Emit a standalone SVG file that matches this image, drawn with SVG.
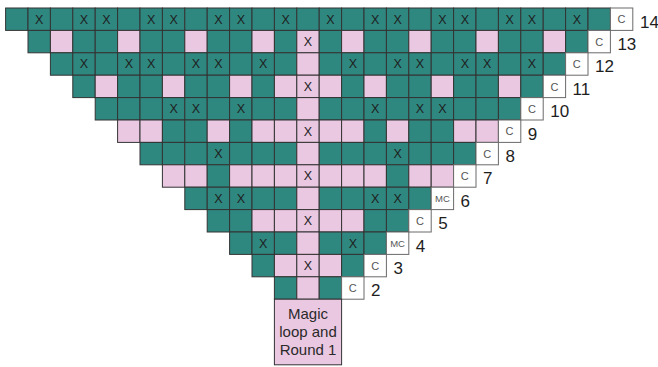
<svg xmlns="http://www.w3.org/2000/svg" width="658" height="367" viewBox="0 0 658 367">
<style>
rect.t,rect.p,rect.c{width:22.4px;height:22.4px;stroke:#333;stroke-width:1}
rect.t{fill:#2f8880}
rect.p{fill:#eac8e2}
rect.c{fill:#fff;stroke:#6a6a6a}
text{font-family:"Liberation Sans",Arial,sans-serif;text-anchor:middle}
text.x{font-size:12.5px;fill:#1e1e1e}
text.cc{font-size:11px;fill:#555}
text.mc{font-size:9.5px;fill:#555}
text.n{font-size:17px;fill:#1e1e1e;text-anchor:start}
text.m{font-size:15px;fill:#2a2a2a}
</style>
<rect x="0" y="0" width="658" height="367" fill="#fff"/>
<g id="row14" transform="translate(0,8)">
<rect class="t" x="5.6"/><rect class="t" x="28"/><rect class="t" x="50.4"/><rect class="t" x="72.8"/><rect class="t" x="95.2"/><rect class="t" x="117.6"/><rect class="t" x="140"/><rect class="t" x="162.4"/><rect class="t" x="184.8"/><rect class="t" x="207.2"/><rect class="t" x="229.6"/><rect class="t" x="252"/><rect class="t" x="274.4"/><rect class="t" x="296.8"/><rect class="t" x="319.2"/><rect class="t" x="341.6"/><rect class="t" x="364"/><rect class="t" x="386.4"/><rect class="t" x="408.8"/><rect class="t" x="431.2"/><rect class="t" x="453.6"/><rect class="t" x="476"/><rect class="t" x="498.4"/><rect class="t" x="520.8"/><rect class="t" x="543.2"/><rect class="t" x="565.6"/><rect class="t" x="588"/>
<text class="x" x="39.2" y="15.7">X</text><text class="x" x="84" y="15.7">X</text><text class="x" x="106.4" y="15.7">X</text><text class="x" x="151.2" y="15.7">X</text><text class="x" x="173.6" y="15.7">X</text><text class="x" x="218.4" y="15.7">X</text><text class="x" x="240.8" y="15.7">X</text><text class="x" x="285.6" y="15.7">X</text><text class="x" x="330.4" y="15.7">X</text><text class="x" x="375.2" y="15.7">X</text><text class="x" x="397.6" y="15.7">X</text><text class="x" x="442.4" y="15.7">X</text><text class="x" x="464.8" y="15.7">X</text><text class="x" x="509.6" y="15.7">X</text><text class="x" x="532" y="15.7">X</text><text class="x" x="576.8" y="15.7">X</text>
<rect class="c" x="610.4"/><text class="cc" x="621.6" y="15.4">C</text>
<text class="n" x="640" y="19.7">14</text>
</g>
<g id="row13" transform="translate(0,30.4)">
<rect class="t" x="28"/><rect class="p" x="50.4"/><rect class="t" x="72.8"/><rect class="t" x="95.2"/><rect class="p" x="117.6"/><rect class="t" x="140"/><rect class="t" x="162.4"/><rect class="p" x="184.8"/><rect class="t" x="207.2"/><rect class="t" x="229.6"/><rect class="p" x="252"/><rect class="t" x="274.4"/><rect class="p" x="296.8"/><rect class="t" x="319.2"/><rect class="p" x="341.6"/><rect class="t" x="364"/><rect class="t" x="386.4"/><rect class="p" x="408.8"/><rect class="t" x="431.2"/><rect class="t" x="453.6"/><rect class="p" x="476"/><rect class="t" x="498.4"/><rect class="t" x="520.8"/><rect class="p" x="543.2"/><rect class="t" x="565.6"/>
<text class="x" x="308" y="15.7">X</text>
<rect class="c" x="588"/><text class="cc" x="599.2" y="15.4">C</text>
<text class="n" x="617.4" y="19.7">13</text>
</g>
<g id="row12" transform="translate(0,52.8)">
<rect class="t" x="50.4"/><rect class="t" x="72.8"/><rect class="t" x="95.2"/><rect class="t" x="117.6"/><rect class="t" x="140"/><rect class="t" x="162.4"/><rect class="t" x="184.8"/><rect class="t" x="207.2"/><rect class="t" x="229.6"/><rect class="t" x="252"/><rect class="t" x="274.4"/><rect class="p" x="296.8"/><rect class="t" x="319.2"/><rect class="t" x="341.6"/><rect class="t" x="364"/><rect class="t" x="386.4"/><rect class="t" x="408.8"/><rect class="t" x="431.2"/><rect class="t" x="453.6"/><rect class="t" x="476"/><rect class="t" x="498.4"/><rect class="t" x="520.8"/><rect class="t" x="543.2"/>
<text class="x" x="84" y="15.7">X</text><text class="x" x="128.8" y="15.7">X</text><text class="x" x="151.2" y="15.7">X</text><text class="x" x="196" y="15.7">X</text><text class="x" x="218.4" y="15.7">X</text><text class="x" x="263.2" y="15.7">X</text><text class="x" x="352.8" y="15.7">X</text><text class="x" x="397.6" y="15.7">X</text><text class="x" x="420" y="15.7">X</text><text class="x" x="464.8" y="15.7">X</text><text class="x" x="487.2" y="15.7">X</text><text class="x" x="532" y="15.7">X</text>
<rect class="c" x="565.6"/><text class="cc" x="576.8" y="15.4">C</text>
<text class="n" x="595" y="19.7">12</text>
</g>
<g id="row11" transform="translate(0,75.2)">
<rect class="t" x="72.8"/><rect class="p" x="95.2"/><rect class="t" x="117.6"/><rect class="t" x="140"/><rect class="p" x="162.4"/><rect class="t" x="184.8"/><rect class="t" x="207.2"/><rect class="p" x="229.6"/><rect class="t" x="252"/><rect class="p" x="274.4"/><rect class="p" x="296.8"/><rect class="p" x="319.2"/><rect class="t" x="341.6"/><rect class="p" x="364"/><rect class="t" x="386.4"/><rect class="t" x="408.8"/><rect class="p" x="431.2"/><rect class="t" x="453.6"/><rect class="t" x="476"/><rect class="p" x="498.4"/><rect class="t" x="520.8"/>
<text class="x" x="308" y="15.7">X</text>
<rect class="c" x="543.2"/><text class="cc" x="554.4" y="15.4">C</text>
<text class="n" x="572.6" y="19.7">11</text>
</g>
<g id="row10" transform="translate(0,97.6)">
<rect class="t" x="95.2"/><rect class="t" x="117.6"/><rect class="t" x="140"/><rect class="t" x="162.4"/><rect class="t" x="184.8"/><rect class="t" x="207.2"/><rect class="t" x="229.6"/><rect class="t" x="252"/><rect class="t" x="274.4"/><rect class="p" x="296.8"/><rect class="t" x="319.2"/><rect class="t" x="341.6"/><rect class="t" x="364"/><rect class="t" x="386.4"/><rect class="t" x="408.8"/><rect class="t" x="431.2"/><rect class="t" x="453.6"/><rect class="t" x="476"/><rect class="t" x="498.4"/>
<text class="x" x="173.6" y="15.7">X</text><text class="x" x="196" y="15.7">X</text><text class="x" x="240.8" y="15.7">X</text><text class="x" x="375.2" y="15.7">X</text><text class="x" x="420" y="15.7">X</text><text class="x" x="442.4" y="15.7">X</text>
<rect class="c" x="520.8"/><text class="cc" x="532" y="15.4">C</text>
<text class="n" x="550.2" y="19.7">10</text>
</g>
<g id="row9" transform="translate(0,120)">
<rect class="p" x="117.6"/><rect class="p" x="140"/><rect class="t" x="162.4"/><rect class="t" x="184.8"/><rect class="p" x="207.2"/><rect class="t" x="229.6"/><rect class="p" x="252"/><rect class="p" x="274.4"/><rect class="p" x="296.8"/><rect class="p" x="319.2"/><rect class="p" x="341.6"/><rect class="t" x="364"/><rect class="p" x="386.4"/><rect class="t" x="408.8"/><rect class="t" x="431.2"/><rect class="p" x="453.6"/><rect class="p" x="476"/>
<text class="x" x="308" y="15.7">X</text>
<rect class="c" x="498.4"/><text class="cc" x="509.6" y="15.4">C</text>
<text class="n" x="527.8" y="19.7">9</text>
</g>
<g id="row8" transform="translate(0,142.4)">
<rect class="t" x="140"/><rect class="t" x="162.4"/><rect class="t" x="184.8"/><rect class="t" x="207.2"/><rect class="t" x="229.6"/><rect class="t" x="252"/><rect class="t" x="274.4"/><rect class="p" x="296.8"/><rect class="t" x="319.2"/><rect class="t" x="341.6"/><rect class="t" x="364"/><rect class="t" x="386.4"/><rect class="t" x="408.8"/><rect class="t" x="431.2"/><rect class="t" x="453.6"/>
<text class="x" x="218.4" y="15.7">X</text><text class="x" x="397.6" y="15.7">X</text>
<rect class="c" x="476"/><text class="cc" x="487.2" y="15.4">C</text>
<text class="n" x="505.4" y="19.7">8</text>
</g>
<g id="row7" transform="translate(0,164.8)">
<rect class="p" x="162.4"/><rect class="p" x="184.8"/><rect class="t" x="207.2"/><rect class="p" x="229.6"/><rect class="p" x="252"/><rect class="p" x="274.4"/><rect class="p" x="296.8"/><rect class="p" x="319.2"/><rect class="p" x="341.6"/><rect class="p" x="364"/><rect class="t" x="386.4"/><rect class="p" x="408.8"/><rect class="p" x="431.2"/>
<text class="x" x="308" y="15.7">X</text>
<rect class="c" x="453.6"/><text class="cc" x="464.8" y="15.4">C</text>
<text class="n" x="483" y="19.7">7</text>
</g>
<g id="row6" transform="translate(0,187.2)">
<rect class="t" x="184.8"/><rect class="t" x="207.2"/><rect class="t" x="229.6"/><rect class="t" x="252"/><rect class="t" x="274.4"/><rect class="p" x="296.8"/><rect class="t" x="319.2"/><rect class="t" x="341.6"/><rect class="t" x="364"/><rect class="t" x="386.4"/><rect class="t" x="408.8"/>
<text class="x" x="218.4" y="15.7">X</text><text class="x" x="240.8" y="15.7">X</text><text class="x" x="375.2" y="15.7">X</text><text class="x" x="397.6" y="15.7">X</text>
<rect class="c" x="431.2"/><text class="mc" x="442.4" y="14.5">MC</text>
<text class="n" x="460.6" y="19.7">6</text>
</g>
<g id="row5" transform="translate(0,209.6)">
<rect class="t" x="207.2"/><rect class="t" x="229.6"/><rect class="p" x="252"/><rect class="p" x="274.4"/><rect class="p" x="296.8"/><rect class="p" x="319.2"/><rect class="p" x="341.6"/><rect class="t" x="364"/><rect class="t" x="386.4"/>
<text class="x" x="308" y="15.7">X</text>
<rect class="c" x="408.8"/><text class="cc" x="420" y="15.4">C</text>
<text class="n" x="438.2" y="19.7">5</text>
</g>
<g id="row4" transform="translate(0,232)">
<rect class="t" x="229.6"/><rect class="t" x="252"/><rect class="t" x="274.4"/><rect class="p" x="296.8"/><rect class="t" x="319.2"/><rect class="t" x="341.6"/><rect class="t" x="364"/>
<text class="x" x="263.2" y="15.7">X</text><text class="x" x="352.8" y="15.7">X</text>
<rect class="c" x="386.4"/><text class="mc" x="397.6" y="14.5">MC</text>
<text class="n" x="415.8" y="19.7">4</text>
</g>
<g id="row3" transform="translate(0,254.4)">
<rect class="t" x="252"/><rect class="p" x="274.4"/><rect class="p" x="296.8"/><rect class="p" x="319.2"/><rect class="t" x="341.6"/>
<text class="x" x="308" y="15.7">X</text>
<rect class="c" x="364"/><text class="cc" x="375.2" y="15.4">C</text>
<text class="n" x="393.4" y="19.7">3</text>
</g>
<g id="row2" transform="translate(0,276.8)">
<rect class="t" x="274.4"/><rect class="p" x="296.8"/><rect class="t" x="319.2"/>
<rect class="c" x="341.6"/><text class="cc" x="352.8" y="15.4">C</text>
<text class="n" x="371" y="19.7">2</text>
</g>
<g id="magic">
<rect x="274.4" y="299.2" width="67.2" height="65.6" fill="#eac8e2" stroke="#333" stroke-width="1"/>
<text class="m" x="308" y="319">Magic</text>
<text class="m" x="308" y="337">loop and</text>
<text class="m" x="308" y="355">Round 1</text>
</g>
<g id="connectors"></g>
</svg>
